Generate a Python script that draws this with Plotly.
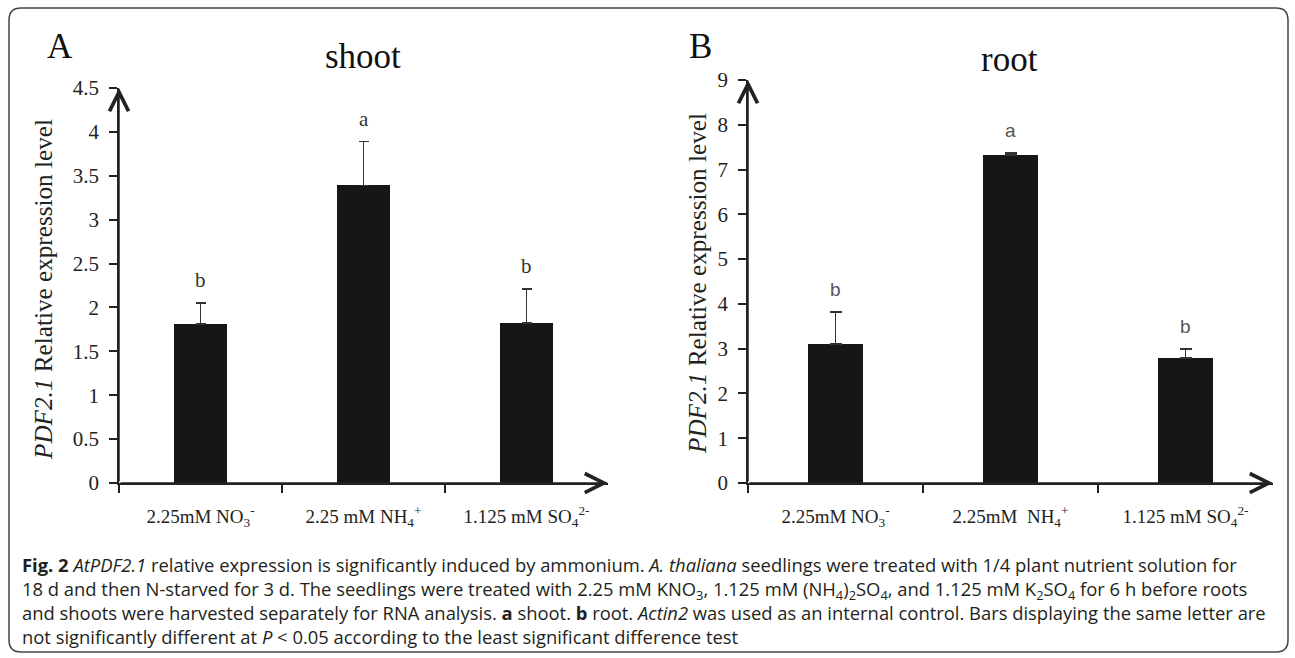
import plotly.graph_objects as go

# ---------------- data ----------------
category_pos = [0.5, 1.5, 2.5]
shoot_labels = ["2.25mM NO<sub>3</sub><sup>-</sup>", "2.25 mM NH<sub>4</sub><sup>+</sup>",
                "1.125 mM SO<sub>4</sub><sup>2-</sup>"]
root_labels = ["2.25mM NO<sub>3</sub><sup>-</sup>", "2.25mM&nbsp; NH<sub>4</sub><sup>+</sup>",
               "1.125 mM SO<sub>4</sub><sup>2-</sup>"]
shoot_values = [1.81, 3.39, 1.82]
shoot_errors = [0.24, 0.50, 0.39]
shoot_letters = ["b", "a", "b"]
root_values = [3.10, 7.32, 2.79]
root_errors = [0.72, 0.05, 0.20]
root_letters = ["b", "a", "b"]
shoot_yticks = [0, 0.5, 1, 1.5, 2, 2.5, 3, 3.5, 4, 4.5]
root_yticks = [0, 1, 2, 3, 4, 5, 6, 7, 8, 9]
boundary_ticks = [0, 1, 2]

caption_lines = [
    "<b>Fig. 2</b> <i>AtPDF2.1</i> relative expression is significantly induced by ammonium. <i>A. thaliana</i> seedlings were treated with 1/4 plant nutrient solution for",
    "18 d and then N-starved for 3 d. The seedlings were treated with 2.25 mM KNO<sub>3</sub>, 1.125 mM (NH<sub>4</sub>)<sub>2</sub>SO<sub>4</sub>, and 1.125 mM K<sub>2</sub>SO<sub>4</sub> for 6 h before roots",
    "and shoots were harvested separately for RNA analysis. <b>a</b> shoot. <b>b</b> root. <i>Actin2</i> was used as an internal control. Bars displaying the same letter are",
    "not significantly different at <i>P</i> &lt; 0.05 according to the least significant difference test",
]

W, H = 1295, 658
SERIF = "Liberation Serif"
INK = "#222222"
BAR = "#161616"


def px(x):
    return x / W


def py(y):
    return (H - y) / H


fig = go.Figure()

fig.add_trace(go.Bar(
    x=category_pos, y=shoot_values, width=0.32, marker=dict(color=BAR, line=dict(width=0)),
    error_y=dict(type="data", symmetric=False, array=shoot_errors, arrayminus=[0] * 3,
                 color="#333333", thickness=1.5, width=5),
    xaxis="x", yaxis="y", showlegend=False, hoverinfo="skip"))

fig.add_trace(go.Bar(
    x=category_pos, y=root_values, width=0.315, marker=dict(color=BAR, line=dict(width=0)),
    error_y=dict(type="data", symmetric=False, array=root_errors, arrayminus=[0] * 3,
                 color="#333333", thickness=1.5, width=6),
    xaxis="x2", yaxis="y2", showlegend=False, hoverinfo="skip"))

common_x = dict(range=[0, 3], showline=True, linecolor=INK, linewidth=1.5, showgrid=False,
                zeroline=False, tickmode="array", tickvals=category_pos, ticks="",
                tickfont=dict(family=SERIF, size=19, color=INK), ticklabelstandoff=15,
                minor=dict(tickmode="array", tickvals=boundary_ticks, ticks="outside",
                           ticklen=8, tickwidth=1.5, tickcolor=INK, showgrid=False),
                fixedrange=True, automargin=False)
common_y = dict(showline=True, linecolor=INK, linewidth=1.5, showgrid=False, zeroline=False,
                ticks="outside", ticklen=8, tickwidth=1.5, tickcolor=INK,
                tickfont=dict(family=SERIF, size=21, color=INK), ticklabelstandoff=6,
                tickmode="array", fixedrange=True, automargin=False)

fig.update_layout(
    template="none",
    width=W, height=H, margin=dict(l=0, r=0, t=0, b=0, pad=0, autoexpand=False),
    paper_bgcolor="white", plot_bgcolor="white", bargap=0,
    xaxis=dict(common_x, domain=[px(119), px(608)], ticktext=shoot_labels, anchor="y"),
    yaxis=dict(common_y, domain=[py(483), py(88)], range=[0, 4.5], tickvals=shoot_yticks,
               ticktext=[f"{v:g}" for v in shoot_yticks], anchor="x"),
    xaxis2=dict(common_x, domain=[px(748), px(1273)], ticktext=root_labels, anchor="y2"),
    yaxis2=dict(common_y, domain=[py(483), py(80)], range=[0, 9], tickvals=root_yticks,
                ticktext=[str(v) for v in root_yticks], anchor="x2"),
)

ann = []
# axis arrows
for xr, yr, ymax in (("x", "y", 4.5), ("x2", "y2", 9)):
    ann.append(dict(xref=xr, yref=yr, axref=xr, ayref=yr, x=0, y=ymax, ax=0, ay=0, text="",
                    showarrow=True, arrowhead=5, arrowsize=2.5, arrowwidth=1.5, arrowcolor=INK))
    ann.append(dict(xref=xr, yref=yr, axref=xr, ayref=yr, x=3, y=0, ax=0, ay=0, text="",
                    showarrow=True, arrowhead=5, arrowsize=2.5, arrowwidth=1.5, arrowcolor=INK))

# significance letters
for xp, v, e, t in zip(category_pos, shoot_values, shoot_errors, shoot_letters):
    ann.append(dict(xref="x", yref="y", x=xp, y=v + e, text=t, showarrow=False,
                    xanchor="center", yanchor="bottom", yshift=9,
                    font=dict(family=SERIF, size=21, color="#333333")))
for xp, v, e, t in zip(category_pos, root_values, root_errors, root_letters):
    ann.append(dict(xref="x2", yref="y2", x=xp, y=v + e, text=t, showarrow=False,
                    xanchor="center", yanchor="bottom", yshift=10,
                    font=dict(family="Liberation Sans", size=19, color="#555555")))

# panel letters and titles
head = dict(xref="paper", yref="paper", showarrow=False, xanchor="center", yanchor="middle",
            font=dict(family=SERIF, size=35, color="#111111"))
ann.append(dict(head, x=px(60), y=py(46), text="A"))
ann.append(dict(head, x=px(700), y=py(46), text="B"))
ann.append(dict(head, x=px(363), y=py(56), text="shoot"))
ann.append(dict(head, x=px(1009), y=py(59), text="root"))

# y axis titles
ytitle = "<i>PDF2.1</i> Relative expression level"
ytit = dict(xref="paper", yref="paper", textangle=-90, showarrow=False,
            xanchor="center", yanchor="middle", font=dict(family=SERIF, size=25.2, color=INK))
ann.append(dict(ytit, x=px(43), y=py(290), text=ytitle))
ann.append(dict(ytit, x=px(697), y=py(284), text=ytitle))

# caption (one multi-line block, left aligned)
ann.append(dict(xref="paper", yref="paper", x=px(20), y=py(600), text="<br>".join(caption_lines),
                showarrow=False, xanchor="left", yanchor="middle", align="left",
                font=dict(family="Open Sans", size=18.4, color="#231f20")))

fig.update_layout(annotations=ann)

# rounded border
x0, x1, y0, y1, r = px(9), px(1288), py(652), py(8), 12
rx, ry = r / W, r / H
path = (f"M {x0 + rx},{y1} L {x1 - rx},{y1} Q {x1},{y1} {x1},{y1 - ry} "
        f"L {x1},{y0 + ry} Q {x1},{y0} {x1 - rx},{y0} L {x0 + rx},{y0} "
        f"Q {x0},{y0} {x0},{y0 + ry} L {x0},{y1 - ry} Q {x0},{y1} {x0 + rx},{y1} Z")
fig.add_shape(type="path", xref="paper", yref="paper", path=path,
              line=dict(color="#444444", width=1.5), fillcolor="rgba(0,0,0,0)")

fig.write_html("out.html")
